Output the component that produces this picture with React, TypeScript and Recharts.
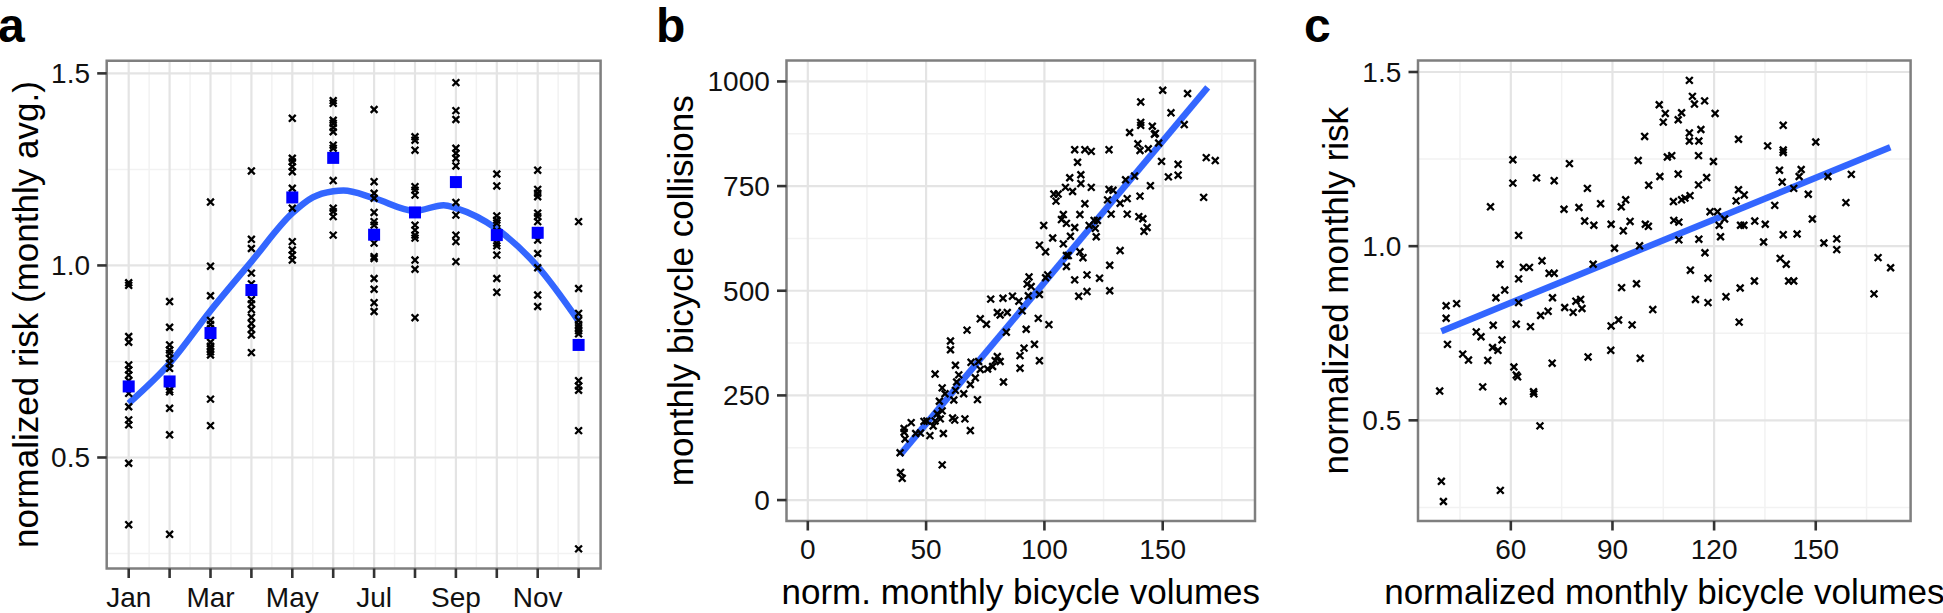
import { ScatterChart, Scatter, XAxis, YAxis, CartesianGrid, ReferenceArea } from "recharts";

const FONT = '"Liberation Sans", Arial, Helvetica, sans-serif';

// ---- panel a: monthly risk ----
const monthTicks = [1, 2, 3, 4, 5, 6, 7, 8, 9, 10, 11, 12];
const monthLabels = ["Jan", "", "Mar", "", "May", "", "Jul", "", "Sep", "", "Nov", ""];
const monthMinor = [1.5, 2.5, 3.5, 4.5, 5.5, 6.5, 7.5, 8.5, 9.5, 10.5, 11.5];

const janRisk = [0.955, 0.948, 0.815, 0.8, 0.741, 0.728, 0.715, 0.7, 0.667, 0.632, 0.598, 0.585, 0.485, 0.325];
const febRisk = [0.906, 0.839, 0.793, 0.78, 0.771, 0.758, 0.745, 0.732, 0.69, 0.676, 0.671, 0.628, 0.559, 0.3];
const marRisk = [1.165, 0.998, 0.921, 0.857, 0.846, 0.835, 0.8, 0.79, 0.783, 0.775, 0.767, 0.652, 0.583];
const aprRisk = [1.246, 1.068, 1.044, 0.98, 0.952, 0.911, 0.9, 0.885, 0.865, 0.849, 0.834, 0.819, 0.773];
const mayRisk = [1.383, 1.279, 1.27, 1.257, 1.244, 1.201, 1.149, 1.062, 1.04, 1.027, 1.014];
const junRisk = [1.429, 1.422, 1.378, 1.37, 1.359, 1.348, 1.313, 1.305, 1.221, 1.149, 1.14, 1.127, 1.079];
const julRisk = [1.406, 1.218, 1.188, 1.175, 1.138, 1.114, 1.105, 1.058, 1.023, 1.018, 0.966, 0.938, 0.903, 0.88];
const augRisk = [1.335, 1.326, 1.3, 1.205, 1.196, 1.183, 1.105, 1.092, 1.079, 1.071, 1.014, 0.99, 0.864];
const sepRisk = [1.476, 1.403, 1.38, 1.305, 1.292, 1.279, 1.259, 1.164, 1.131, 1.079, 1.062, 1.01];
const octRisk = [1.238, 1.207, 1.129, 1.118, 1.11, 1.09, 1.075, 1.058, 1.051, 1.027, 0.966, 0.93];
const novRisk = [1.248, 1.198, 1.188, 1.179, 1.136, 1.127, 1.114, 1.085, 1.066, 1.031, 0.994, 0.923, 0.893];
const decRisk = [1.114, 0.94, 0.875, 0.857, 0.846, 0.838, 0.83, 0.822, 0.7, 0.686, 0.675, 0.57, 0.262];
const riskByMonth = [janRisk, febRisk, marRisk, aprRisk, mayRisk, junRisk, julRisk, augRisk, sepRisk, octRisk, novRisk, decRisk];

const monthlyAvg = [0.685, 0.698, 0.824, 0.936, 1.177, 1.28, 1.08, 1.138, 1.217, 1.079, 1.085, 0.793];

const smoothMonths = [1, 2, 3, 4, 5, 5.5, 6, 6.25, 7, 8, 8.7, 9, 10, 11, 12];
const smoothRisk = [0.641, 0.745, 0.882, 1.01, 1.136, 1.177, 1.193, 1.195, 1.175, 1.142, 1.157, 1.149, 1.095, 0.997, 0.855];

// ---- panel b: volumes vs collisions ----
const bVolumes = [
  39, 39.2, 39.9, 40.7, 40.7, 41.1, 43.7, 45.6, 47.6, 49.1, 50.3, 51.6, 53, 53.8, 53.8, 54.7, 55.6, 56, 56.8, 56.8,
  56.8, 57.3, 58, 60.3, 60.3, 61.2, 61.7, 62.1, 62.4, 62.4, 62.9, 63.8, 65.9, 66.4, 67.3, 68.7, 68.7, 69, 70.8, 71.7,
  72.2, 72.9, 72.9, 75.5, 76, 77.3, 78.1, 79.2, 80.1, 80.1, 81.3, 81.3, 82.5, 82.7, 83.9, 84.3, 86.5, 89.2, 89.7, 89.7,
  90.6, 91.4, 92.3, 92.7, 93.5, 93.2, 94.4, 95.8, 97.4, 97.9, 97.9, 97.9, 99.7, 100.5, 100.5, 101.4, 101.9, 103.5, 104, 104.9,
  105.8, 107.2, 108, 108, 108.9, 109.3, 109.3, 109.3, 110.1, 110.7, 111, 111.9, 112.8, 112.8, 112.8, 114, 114.5, 115, 115, 115.4,
  115.4, 116.3, 117.1, 117.1, 118, 118, 118.9, 119.8, 119.8, 121, 121.5, 121.9, 122.4, 123.3, 126.7, 127.3, 127.3, 127.6, 127.6, 128.2,
  129, 132, 132, 134.3, 135, 135, 136, 138.1, 139.5, 139.9, 140.4, 140.4, 140.7, 140.7, 140.7, 141.6, 142.1, 143.4, 143.9, 144.8,
  145.6, 146.5, 146.9, 148.3, 149.5, 150, 152.4, 153.5, 156.5, 156.5, 159.1, 160.5, 167.3, 168.4, 172.2,
];
const bCollisions = [
  113, 66, 52, 171, 162, 146, 185, 159, 160, 188, 189, 154, 177, 301, 189, 206, 236, 194, 213, 268,
  84, 159, 254, 380, 359, 196, 239, 191, 262, 322, 282, 299, 254, 194, 406, 276, 166, 329, 292, 240,
  331, 433, 312, 420, 313, 480, 319, 333, 343, 448, 442, 331, 482, 282, 401, 448, 487, 475, 315, 345,
  452, 363, 408, 516, 533, 488, 510, 372, 434, 491, 333, 609, 656, 531, 593, 538, 419, 626, 731, 714,
  731, 670, 682, 612, 747, 661, 584, 558, 584, 770, 630, 737, 837, 651, 526, 807, 487, 593, 682, 756,
  777, 579, 837, 708, 538, 498, 656, 833, 747, 668, 649, 629, 668, 530, 717, 742, 837, 561, 500, 683,
  740, 709, 596, 765, 720, 683, 878, 774, 851, 677, 835, 726, 951, 902, 895, 672, 642, 651, 839, 751,
  893, 874, 876, 853, 809, 979, 772, 925, 802, 776, 897, 971, 723, 818, 811,
];
const bFitVolume = [39, 169];
const bFitCollisions = [108, 986];

// ---- panel c: volumes vs risk ----
const cVolumes = [
  39, 39.5, 40.1, 40.9, 40.9, 41.3, 44, 45.8, 47.5, 49.8, 51.2, 51.7, 53.2, 54, 54.6, 54.8, 55.6, 56.2, 56.8, 56.9,
  57.4, 57.7, 58.2, 60.6, 60.6, 60.9, 61.6, 61.6, 62, 62.3, 62.3, 62.3, 63.7, 65.5, 65.8, 66.7, 66.8, 67.6, 68.6, 68.8,
  69.2, 71, 71.3, 72.2, 72.3, 72.8, 72.8, 75.7, 75.9, 77.3, 78.4, 79.2, 80.1, 80.6, 81, 81.8, 82.6, 82.8, 84.3, 84.5,
  86.5, 89.5, 89.6, 89.6, 90.6, 91.8, 92.6, 92.7, 93.2, 93.9, 95.2, 95.8, 97.1, 97.6, 98, 98.2, 99.5, 99.7, 100.6, 100.7,
  101.9, 103.8, 104, 105, 105.6, 106.2, 107.5, 108, 108.1, 109.4, 109.4, 109.6, 109.6, 110.4, 110.4, 111.4, 112.7, 112.7, 112.7, 112.9,
  113, 113.6, 114.2, 114.5, 115.4, 115.4, 115.5, 115.5, 116.1, 117.2, 117.3, 117.8, 118.2, 118.2, 118.8, 119.8, 120.3, 121, 121.5, 121.9,
  123.1, 123.5, 126.5, 127.2, 127.2, 127.4, 127.7, 127.8, 128.8, 128.9, 131.9, 132, 134.6, 135.1, 135.8, 137.9, 139.3, 139.5, 140.1, 140.4,
  140.4, 140.4, 140.4, 141.3, 142, 143.5, 143.5, 144.5, 145.1, 145.7, 147.8, 149, 150, 152.4, 153.6, 156.2, 156.2, 158.9, 160.5, 167.2,
  168.4, 172.1,
];
const cRisk = [
  0.584, 0.325, 0.267, 0.829, 0.793, 0.718, 0.835, 0.69, 0.673, 0.754, 0.74, 0.596, 0.672, 1.113, 0.709, 0.773, 0.852, 0.701, 0.948, 0.299,
  0.731, 0.555, 0.874, 1.181, 1.248, 0.653, 0.776, 0.63, 0.625, 0.906, 1.031, 0.838, 0.939, 0.939, 0.769, 0.582, 0.576, 1.196, 0.484, 0.801,
  0.958, 0.813, 0.922, 0.664, 0.852, 0.922, 1.188, 1.106, 0.824, 1.237, 0.81, 0.842, 1.111, 0.847, 0.821, 1.072, 1.166, 0.682, 0.948, 1.06,
  1.122, 0.701, 1.063, 0.771, 0.994, 0.788, 1.113, 0.881, 1.044, 1.133, 1.071, 0.774, 0.892, 1.246, 1.001, 0.678, 1.315, 1.063, 1.057, 1.175,
  0.818, 1.406, 1.2, 1.356, 1.381, 1.256, 1.26, 1.128, 1.074, 1.363, 1.207, 1.069, 1.018, 1.383, 1.133, 1.138, 1.476, 1.325, 1.302, 1.145,
  0.931, 1.43, 1.408, 0.847, 1.26, 1.176, 1.302, 1.02, 1.335, 1.417, 0.981, 1.197, 0.908, 0.838, 1.099, 1.243, 1.381, 1.099, 1.06, 1.027,
  1.078, 0.855, 1.13, 1.307, 1.162, 0.782, 0.88, 1.06, 1.06, 1.147, 0.9, 1.072, 1.012, 1.063, 1.288, 1.117, 1.218, 0.965, 1.184, 1.276,
  1.347, 1.269, 1.033, 0.948, 0.9, 0.9, 1.166, 1.035, 1.2, 1.22, 1.149, 1.078, 1.299, 1.009, 1.2, 1.021, 0.99, 1.125, 1.206, 0.863,
  0.967, 0.938,
];
const cFitVolume = [39.5, 172];
const cFitRisk = [0.756, 1.284];

// ---- shared axis settings ----
const riskDomain = [0.211, 1.533];
const riskTicks = [0.5, 1.0, 1.5];
const riskMinor = [0.25, 0.75, 1.25];

const aPoints = riskByMonth.flatMap((vals, i) => vals.map((v) => ({ x: i + 1, y: v })));
const aAvg = monthlyAvg.map((v, i) => ({ x: i + 1, y: v }));
const aSmooth = smoothMonths.map((m, i) => ({ x: m, y: smoothRisk[i] }));
const bPoints = bVolumes.map((v, i) => ({ x: v, y: bCollisions[i] }));
const bFit = bFitVolume.map((v, i) => ({ x: v, y: bFitCollisions[i] }));
const cPoints = cVolumes.map((v, i) => ({ x: v, y: cRisk[i] }));
const cFit = cFitVolume.map((v, i) => ({ x: v, y: cFitRisk[i] }));

const BLUE_LINE = "#3366FF";
const tickStyle = { fill: "#111", fontSize: 28, fontFamily: FONT };
const tickLine = { stroke: "#333", strokeWidth: 2.6 };

function Cross(props: any) {
  const { cx, cy } = props;
  const r = 3.4;
  return (
    <path
      d={`M${cx - r},${cy - r}L${cx + r},${cy + r}M${cx - r},${cy + r}L${cx + r},${cy - r}`}
      stroke="#000"
      strokeWidth={2.3}
      fill="none"
    />
  );
}

function BlueSquare(props: any) {
  const { cx, cy } = props;
  const s = 12;
  return <rect x={cx - s / 2} y={cy - s / 2} width={s} height={s} fill="#0000FF" />;
}

function Nothing() {
  return <g />;
}

function yTitle(text: string, x: number, cy: number) {
  return () => (
    <text
      x={x}
      y={cy}
      transform={`rotate(-90 ${x} ${cy})`}
      textAnchor="middle"
      fontSize={35}
      fontFamily={FONT}
      fill="#000"
    >
      {text}
    </text>
  );
}

function xTitle(text: string, cx: number, y: number) {
  return () => (
    <text x={cx} y={y} textAnchor="middle" fontSize={35} fontFamily={FONT} fill="#000">
      {text}
    </text>
  );
}

const panelLetter = (letter: string, left: number) => (
  <div
    style={{
      position: "absolute",
      left,
      top: -2,
      fontFamily: FONT,
      fontWeight: 700,
      fontSize: 48,
      color: "#000",
    }}
  >
    {letter}
  </div>
);

export default function App() {
  return (
    <div style={{ position: "absolute", left: 0, top: 0, width: 1943, height: 613, background: "#fff" }}>
      {/* panel a */}
      <div style={{ position: "absolute", left: 0, top: 0 }}>
        <ScatterChart width={647} height={613} margin={{ top: 60.7, right: 46.4, bottom: 0, left: 0 }}>
          <CartesianGrid horizontalValues={riskMinor} verticalValues={monthMinor} stroke="#F2F2F2" strokeWidth={1.5} />
          <CartesianGrid horizontalValues={riskTicks} verticalValues={monthTicks} stroke="#E4E4E4" strokeWidth={2.2} />
          <XAxis
            type="number"
            dataKey="x"
            domain={[0.462, 12.538]}
            ticks={monthTicks}
            interval={0}
            allowDataOverflow
            tickFormatter={(v: number) => monthLabels[v - 1]}
            axisLine={false}
            tickLine={tickLine}
            tickSize={9.5}
            tickMargin={8.7}
            height={44.5}
            tick={tickStyle}
          />
          <YAxis
            type="number"
            dataKey="y"
            domain={riskDomain}
            ticks={riskTicks}
            interval={0}
            allowDataOverflow
            tickFormatter={(v: number) => v.toFixed(1)}
            axisLine={false}
            tickLine={tickLine}
            tickSize={9.5}
            tickMargin={7.2}
            width={106.7}
            tick={tickStyle}
            label={yTitle("normalized risk (monthly avg.)", 38, 314.6)}
          />
          <Scatter data={aSmooth} shape={Nothing} line={{ stroke: BLUE_LINE, strokeWidth: 6.5 }} lineJointType="monotoneX" isAnimationActive={false} />
          <Scatter data={aPoints} shape={Cross} isAnimationActive={false} />
          <Scatter data={aAvg} shape={BlueSquare} isAnimationActive={false} />
          <ReferenceArea x1={0.462} x2={12.538} y1={riskDomain[0]} y2={riskDomain[1]} fill="none" stroke="#7F7F7F" strokeWidth={2.5} ifOverflow="visible" />
        </ScatterChart>
        {panelLetter("a", -2)}
      </div>

      {/* panel b */}
      <div style={{ position: "absolute", left: 647, top: 0 }}>
        <ScatterChart width={648} height={613} margin={{ top: 60.5, right: 40, bottom: 0, left: 0 }}>
          <CartesianGrid horizontalValues={[125, 375, 625, 875]} verticalValues={[25, 75, 125, 175]} stroke="#F2F2F2" strokeWidth={1.5} />
          <CartesianGrid horizontalValues={[0, 250, 500, 750, 1000]} verticalValues={[0, 50, 100, 150]} stroke="#E4E4E4" strokeWidth={2.2} />
          <XAxis
            type="number"
            dataKey="x"
            domain={[-9, 189]}
            ticks={[0, 50, 100, 150]}
            interval={0}
            allowDataOverflow
            axisLine={false}
            tickLine={tickLine}
            tickSize={9.5}
            tickMargin={8.7}
            height={92}
            tick={tickStyle}
            label={xTitle("norm. monthly bicycle volumes", 373.75, 604)}
          />
          <YAxis
            type="number"
            dataKey="y"
            domain={[-50, 1050]}
            ticks={[0, 250, 500, 750, 1000]}
            interval={0}
            allowDataOverflow
            axisLine={false}
            tickLine={tickLine}
            tickSize={9.5}
            tickMargin={7.2}
            width={139.5}
            tick={tickStyle}
            label={yTitle("monthly bicycle collisions", 46, 290.75)}
          />
          <Scatter data={bFit} shape={Nothing} line={{ stroke: BLUE_LINE, strokeWidth: 6.5 }} isAnimationActive={false} />
          <Scatter data={bPoints} shape={Cross} isAnimationActive={false} />
          <ReferenceArea x1={-9} x2={189} y1={-50} y2={1050} fill="none" stroke="#7F7F7F" strokeWidth={2.5} ifOverflow="visible" />
        </ScatterChart>
        {panelLetter("b", 9)}
      </div>

      {/* panel c */}
      <div style={{ position: "absolute", left: 1295, top: 0 }}>
        <ScatterChart width={648} height={613} margin={{ top: 60.5, right: 32.4, bottom: 0, left: 0 }}>
          <CartesianGrid horizontalValues={riskMinor} verticalValues={[45, 75, 105, 135, 165]} stroke="#F2F2F2" strokeWidth={1.5} />
          <CartesianGrid horizontalValues={riskTicks} verticalValues={[60, 90, 120, 150]} stroke="#E4E4E4" strokeWidth={2.2} />
          <XAxis
            type="number"
            dataKey="x"
            domain={[32.6, 178]}
            ticks={[60, 90, 120, 150]}
            interval={0}
            allowDataOverflow
            axisLine={false}
            tickLine={tickLine}
            tickSize={9.5}
            tickMargin={8.7}
            height={92}
            tick={tickStyle}
            label={xTitle("normalized monthly bicycle volumes", 369.3, 604)}
          />
          <YAxis
            type="number"
            dataKey="y"
            domain={riskDomain}
            ticks={riskTicks}
            interval={0}
            allowDataOverflow
            tickFormatter={(v: number) => v.toFixed(1)}
            axisLine={false}
            tickLine={tickLine}
            tickSize={9.5}
            tickMargin={7.2}
            width={123}
            tick={tickStyle}
            label={yTitle("normalized monthly risk", 53, 290.75)}
          />
          <Scatter data={cFit} shape={Nothing} line={{ stroke: BLUE_LINE, strokeWidth: 6.5 }} isAnimationActive={false} />
          <Scatter data={cPoints} shape={Cross} isAnimationActive={false} />
          <ReferenceArea x1={32.6} x2={178} y1={riskDomain[0]} y2={riskDomain[1]} fill="none" stroke="#7F7F7F" strokeWidth={2.5} ifOverflow="visible" />
        </ScatterChart>
        {panelLetter("c", 9)}
      </div>
    </div>
  );
}
